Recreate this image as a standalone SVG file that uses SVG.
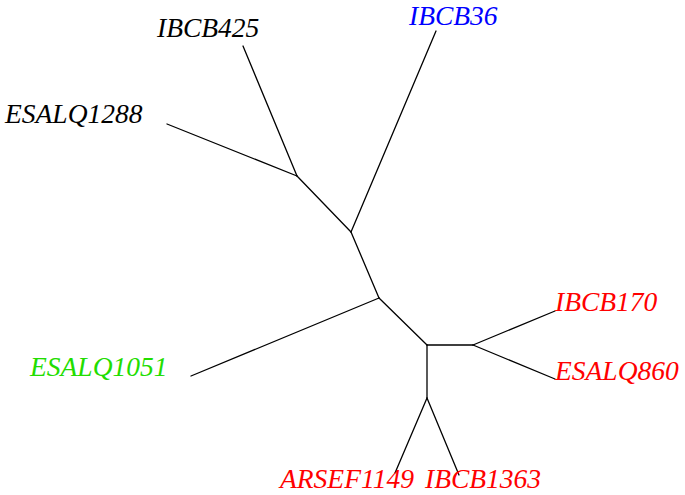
<svg xmlns="http://www.w3.org/2000/svg" width="685" height="495" viewBox="0 0 685 495">
<style>
.e{stroke:#000;stroke-width:1.3;fill:none;stroke-linecap:round}
text{font-family:"Liberation Serif","Times New Roman",serif;font-style:italic;font-size:27.5px}
.k{fill:#000}.b{fill:#0000ff}.g{fill:#22dd00}.r{fill:#ff0000}
</style>
<rect width="685" height="495" fill="#fff"/>
<g id="connectors">
<path class="e" d="M243,46 L297,176"/>
<path class="e" d="M167,124 L297,176"/>
<path class="e" d="M297,176 L351,232"/>
<path class="e" d="M436,31 L351,232"/>
<path class="e" d="M351,232 L379,298"/>
<path class="e" d="M191,376 L379,298"/>
<path class="e" d="M379,298 L427,345"/>
<path class="e" d="M427,345 L473,345"/>
<path class="e" d="M473,345 L555,311"/>
<path class="e" d="M473,345 L555,379"/>
<path class="e" d="M427,345 L427,398"/>
<path class="e" d="M427,398 L395,473"/>
<path class="e" d="M427,398 L459,475"/>
</g>
<g id="IBCB425"><text class="k" x="157" y="37">IBCB425</text></g>
<g id="ESALQ1288"><text class="k" x="5" y="123">ESALQ1288</text></g>
<g id="IBCB36"><text class="b" x="409" y="25">IBCB36</text></g>
<g id="ESALQ1051"><text class="g" x="30" y="376">ESALQ1051</text></g>
<g id="IBCB170"><text class="r" x="555" y="311">IBCB170</text></g>
<g id="ESALQ860"><text class="r" x="555" y="380">ESALQ860</text></g>
<g id="ARSEF1149"><text class="r" x="280" y="488">ARSEF1149</text></g>
<g id="IBCB1363"><text class="r" x="425" y="488">IBCB1363</text></g>
</svg>
